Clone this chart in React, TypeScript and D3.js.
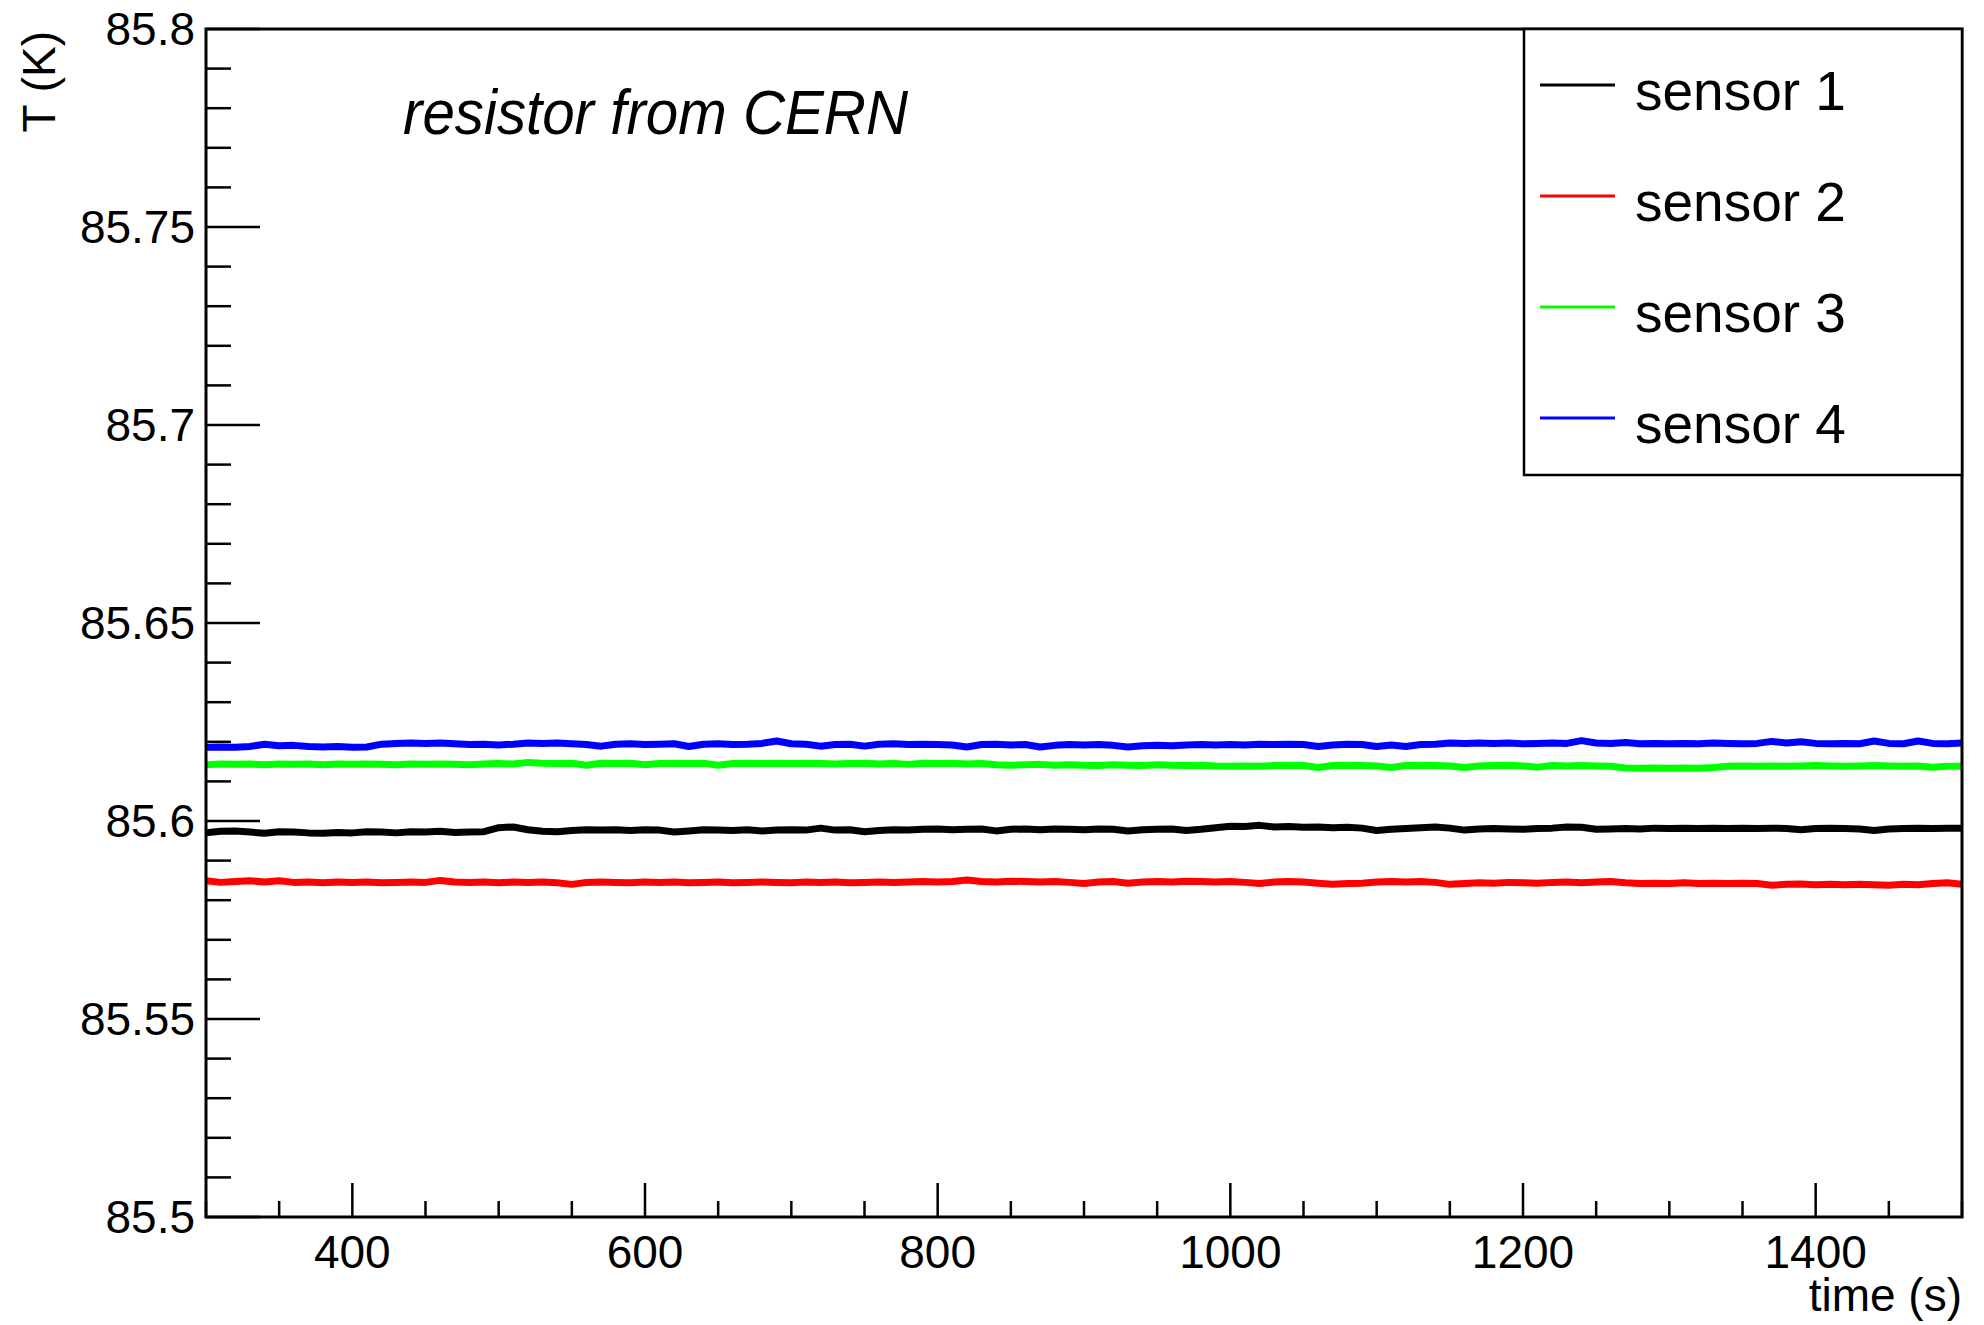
import React from "react";
import * as d3 from "d3";

const W = 1984;
const H = 1325;

const X_DOMAIN = [300, 1500];
const Y_DOMAIN = [85.5, 85.8];
const X_MAJOR = [400, 600, 800, 1000, 1200, 1400];
const X_LABELS = ["400", "600", "800", "1000", "1200", "1400"];
const Y_MAJOR = [85.5, 85.55, 85.6, 85.65, 85.7, 85.75, 85.8];
const Y_LABELS = ["85.5", "85.55", "85.6", "85.65", "85.7", "85.75", "85.8"];

const TIMES = d3.range(300, 1501, 10);

const SENSOR1 = [
  85.5970, 85.5974, 85.5975, 85.5972, 85.5969, 85.5973, 85.5972, 85.5970, 85.5969, 85.5971,
  85.5970, 85.5973, 85.5972, 85.5970, 85.5973, 85.5972, 85.5974, 85.5971, 85.5972, 85.5973,
  85.5983, 85.5985, 85.5978, 85.5974, 85.5973, 85.5976, 85.5978, 85.5977, 85.5978, 85.5976,
  85.5978, 85.5977, 85.5972, 85.5975, 85.5978, 85.5977, 85.5976, 85.5978, 85.5975, 85.5977,
  85.5978, 85.5977, 85.5982, 85.5977, 85.5978, 85.5973, 85.5976, 85.5978, 85.5977, 85.5979,
  85.5980, 85.5978, 85.5979, 85.5980, 85.5975, 85.5979, 85.5980, 85.5978, 85.5980, 85.5979,
  85.5978, 85.5980, 85.5979, 85.5975, 85.5978, 85.5979, 85.5980, 85.5976, 85.5979, 85.5983,
  85.5987, 85.5986, 85.5989, 85.5985, 85.5986, 85.5984, 85.5985, 85.5983, 85.5984, 85.5982,
  85.5976, 85.5979, 85.5981, 85.5983, 85.5985, 85.5982, 85.5977, 85.5980, 85.5981, 85.5980,
  85.5979, 85.5981, 85.5982, 85.5985, 85.5984, 85.5979, 85.5980, 85.5981, 85.5980, 85.5982,
  85.5981, 85.5982, 85.5981, 85.5982, 85.5981, 85.5982, 85.5981, 85.5982, 85.5981, 85.5978,
  85.5981, 85.5982, 85.5981, 85.5980, 85.5976, 85.5980, 85.5981, 85.5982, 85.5981, 85.5982,
  85.5982,
];

const SENSOR2 = [
  85.5849, 85.5845, 85.5847, 85.5849, 85.5846, 85.5849, 85.5845, 85.5846, 85.5844, 85.5846,
  85.5845, 85.5846, 85.5844, 85.5845, 85.5846, 85.5845, 85.5850, 85.5846, 85.5845, 85.5846,
  85.5844, 85.5846, 85.5845, 85.5846, 85.5844, 85.5840, 85.5845, 85.5846, 85.5845, 85.5844,
  85.5846, 85.5845, 85.5846, 85.5844, 85.5845, 85.5846, 85.5844, 85.5845, 85.5846, 85.5845,
  85.5844, 85.5846, 85.5845, 85.5846, 85.5844, 85.5845, 85.5846, 85.5845, 85.5846, 85.5847,
  85.5846, 85.5847, 85.5851, 85.5847, 85.5846, 85.5848, 85.5847, 85.5846, 85.5847, 85.5845,
  85.5842, 85.5846, 85.5847, 85.5843, 85.5846, 85.5847, 85.5846, 85.5848, 85.5847, 85.5846,
  85.5847, 85.5845, 85.5842, 85.5846, 85.5847, 85.5846, 85.5843, 85.5840, 85.5842, 85.5843,
  85.5846, 85.5847, 85.5846, 85.5847, 85.5845, 85.5840, 85.5842, 85.5844, 85.5843, 85.5845,
  85.5844, 85.5843, 85.5845, 85.5846, 85.5844, 85.5846, 85.5847, 85.5844, 85.5842, 85.5843,
  85.5842, 85.5844, 85.5842, 85.5843, 85.5842, 85.5843, 85.5842, 85.5838, 85.5840, 85.5841,
  85.5839, 85.5840, 85.5839, 85.5840, 85.5839, 85.5838, 85.5840, 85.5839, 85.5842, 85.5844,
  85.5840,
];

const SENSOR3 = [
  85.6142, 85.6144, 85.6143, 85.6144, 85.6142, 85.6144, 85.6143, 85.6144, 85.6142, 85.6144,
  85.6143, 85.6144, 85.6143, 85.6142, 85.6144, 85.6143, 85.6144, 85.6143, 85.6142, 85.6144,
  85.6145, 85.6144, 85.6148, 85.6146, 85.6145, 85.6146, 85.6141, 85.6146, 85.6145, 85.6146,
  85.6142, 85.6145, 85.6146, 85.6145, 85.6146, 85.6141, 85.6145, 85.6146, 85.6145, 85.6146,
  85.6145, 85.6146, 85.6145, 85.6144, 85.6145, 85.6146, 85.6144, 85.6145, 85.6143, 85.6146,
  85.6145, 85.6146, 85.6144, 85.6145, 85.6142, 85.6141, 85.6142, 85.6143, 85.6141, 85.6142,
  85.6141, 85.6140, 85.6142, 85.6141, 85.6140, 85.6142, 85.6141, 85.6140, 85.6141, 85.6139,
  85.6138, 85.6139, 85.6138, 85.6140, 85.6141, 85.6140, 85.6135, 85.6140, 85.6141, 85.6140,
  85.6139, 85.6135, 85.6140, 85.6141, 85.6140, 85.6139, 85.6135, 85.6139, 85.6140, 85.6141,
  85.6139, 85.6136, 85.6140, 85.6139, 85.6140, 85.6139, 85.6138, 85.6134, 85.6133, 85.6134,
  85.6133, 85.6134, 85.6133, 85.6135, 85.6138, 85.6139, 85.6138, 85.6139, 85.6138, 85.6139,
  85.6140, 85.6139, 85.6138, 85.6139, 85.6140, 85.6139, 85.6138, 85.6139, 85.6136, 85.6138,
  85.6138,
];

const SENSOR4 = [
  85.6186, 85.6187, 85.6186, 85.6188, 85.6194, 85.6190, 85.6191, 85.6188, 85.6187, 85.6188,
  85.6186, 85.6187, 85.6194, 85.6196, 85.6197, 85.6196, 85.6197, 85.6195, 85.6193, 85.6194,
  85.6192, 85.6194, 85.6197, 85.6196, 85.6197, 85.6195, 85.6193, 85.6189, 85.6194, 85.6195,
  85.6193, 85.6194, 85.6195, 85.6188, 85.6194, 85.6195, 85.6193, 85.6194, 85.6196, 85.6202,
  85.6195, 85.6194, 85.6189, 85.6193, 85.6194, 85.6189, 85.6194, 85.6195, 85.6193, 85.6194,
  85.6193, 85.6192, 85.6187, 85.6193, 85.6194, 85.6192, 85.6193, 85.6187, 85.6191, 85.6193,
  85.6192, 85.6193, 85.6191, 85.6187, 85.6190, 85.6191, 85.6190, 85.6192, 85.6193, 85.6192,
  85.6193, 85.6192, 85.6194, 85.6193, 85.6194, 85.6193, 85.6188, 85.6192, 85.6194, 85.6193,
  85.6188, 85.6192, 85.6188, 85.6193, 85.6194, 85.6197, 85.6196, 85.6197, 85.6196, 85.6197,
  85.6195, 85.6196, 85.6197, 85.6196, 85.6203, 85.6197, 85.6196, 85.6198, 85.6195, 85.6196,
  85.6195, 85.6196, 85.6195, 85.6197, 85.6196, 85.6195, 85.6196, 85.6201, 85.6197, 85.6200,
  85.6196, 85.6195, 85.6196, 85.6195, 85.6202, 85.6196, 85.6195, 85.6202, 85.6196, 85.6195,
  85.6197,
];

const SERIES_NAMES = ["sensor 1", "sensor 2", "sensor 3", "sensor 4"];
const SERIES_COLORS = ["#000000", "#ff0000", "#00ff00", "#0000ff"];
const SERIES_DATA = [SENSOR1, SENSOR2, SENSOR3, SENSOR4];

const TITLE = "resistor from CERN";
const X_TITLE = "time (s)";
const Y_TITLE = "T (K)";

const FONT = "'Liberation Sans', Arial, Helvetica, sans-serif";

export default function App() {
  const left = 206;
  const right = 1962;
  const top = 29;
  const bottom = 1217;

  const x = d3.scaleLinear().domain(X_DOMAIN).range([left, right]);
  const y = d3.scaleLinear().domain(Y_DOMAIN).range([bottom, top]);

  const line = d3
    .line<number>()
    .x((_, i) => x(TIMES[i]))
    .y((d) => y(d));

  const xMinor = d3.range(300, 1501, 50).filter((v) => v % 200 !== 0);
  const yMinorIdx = d3.range(0, 31).filter((i) => i % 5 !== 0);

  const legLeft = 1524;
  const legTop = top;
  const legBottom = 475;

  return (
    <svg
      width={W}
      height={H}
      style={{ position: "absolute", left: 0, top: 0, background: "#fff" }}
      fontFamily={FONT}
    >
      <rect x={0} y={0} width={W} height={H} fill="#fff" />
      <defs>
        <clipPath id="plotclip">
          <rect x={left} y={top} width={right - left} height={bottom - top} />
        </clipPath>
      </defs>

      {/* data */}
      <g clipPath="url(#plotclip)">
        {SERIES_DATA.map((s, k) => (
          <path
            key={k}
            d={line(s) || ""}
            fill="none"
            stroke={SERIES_COLORS[k]}
            strokeWidth={7}
            strokeLinejoin="round"
            strokeLinecap="round"
          />
        ))}
      </g>

      {/* y ticks */}
      {Y_MAJOR.map((v, i) => (
        <g key={"ym" + i}>
          <line x1={left} x2={left + 54} y1={y(v)} y2={y(v)} stroke="#000" strokeWidth={2.5} />
          <text x={195} y={y(v) + 16} textAnchor="end" fontSize={46} fill="#000">
            {Y_LABELS[i]}
          </text>
        </g>
      ))}
      {yMinorIdx.map((i) => {
        const v = Y_DOMAIN[0] + (i * (Y_DOMAIN[1] - Y_DOMAIN[0])) / 30;
        return (
          <line key={"yn" + i} x1={left} x2={left + 25} y1={y(v)} y2={y(v)} stroke="#000" strokeWidth={2.5} />
        );
      })}

      {/* x ticks */}
      {X_MAJOR.map((v, i) => (
        <g key={"xm" + i}>
          <line x1={x(v)} x2={x(v)} y1={bottom} y2={bottom - 34} stroke="#000" strokeWidth={2.5} />
          <text x={x(v)} y={1268} textAnchor="middle" fontSize={46} fill="#000">
            {X_LABELS[i]}
          </text>
        </g>
      ))}
      {xMinor.map((v) => (
        <line key={"xn" + v} x1={x(v)} x2={x(v)} y1={bottom} y2={bottom - 16} stroke="#000" strokeWidth={2.5} />
      ))}

      {/* frame */}
      <rect x={left} y={top} width={right - left} height={bottom - top} fill="none" stroke="#000" strokeWidth={3} />

      {/* axis titles */}
      <text x={right} y={1311} textAnchor="end" fontSize={46} fill="#000">
        {X_TITLE}
      </text>
      <text
        transform={`translate(55, 31) rotate(-90)`}
        textAnchor="end"
        fontSize={46}
        fill="#000"
      >
        {Y_TITLE}
      </text>

      {/* title */}
      <text
        x={403}
        y={134}
        fontSize={63}
        fontStyle="italic"
        fill="#000"
        textLength={505}
        lengthAdjust="spacingAndGlyphs"
      >
        {TITLE}
      </text>

      {/* legend */}
      <rect
        x={legLeft}
        y={legTop}
        width={right - legLeft}
        height={legBottom - legTop}
        fill="#fff"
        stroke="#000"
        strokeWidth={2.5}
      />
      {SERIES_NAMES.map((name, i) => {
        const ly = 85 + i * 111;
        return (
          <g key={"lg" + i}>
            <line x1={1540} x2={1615} y1={ly} y2={ly} stroke={SERIES_COLORS[i]} strokeWidth={3} />
            <text x={1635} y={ly + 25} fontSize={55} fill="#000">
              {name}
            </text>
          </g>
        );
      })}
    </svg>
  );
}
